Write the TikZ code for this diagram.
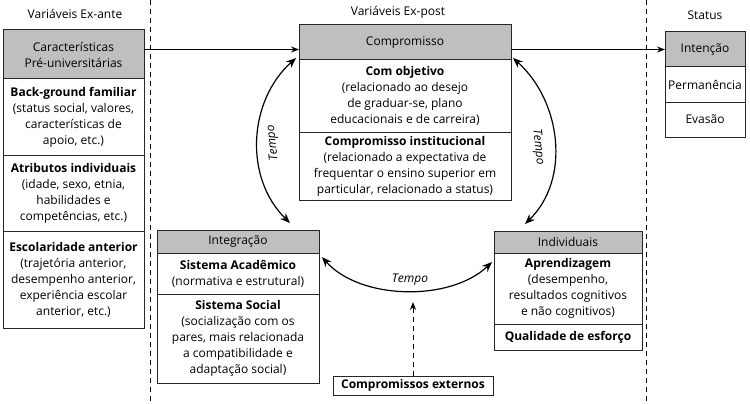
\documentclass[tikz,border=0pt]{standalone}
\usepackage{fontspec}
\setmainfont{Open Sans}
\usetikzlibrary{arrows.meta,positioning,calc}

\tikzset{
  hdr/.style={draw=black!85, line width=1pt, fill=gray!50, align=center, inner sep=0pt, outer sep=0pt},
  sec/.style={draw=black!85, line width=1pt, fill=white, align=center, inner sep=0pt, outer sep=0pt},
  tempo/.style={{Stealth[length=10pt,width=8pt]}-{Stealth[length=10pt,width=8pt]}, line width=1.2pt},
  flow/.style={-{Stealth[length=8pt,width=6pt]}, line width=0.8pt},
  sep/.style={dash pattern=on 5pt off 4pt, line width=0.8pt},
  lbl/.style={font=\fontsize{12}{16}\selectfont\itshape},
}

\begin{document}
\begin{tikzpicture}[x=1pt, y=-1pt, font=\fontsize{12}{16}\selectfont]
 \useasboundingbox (0,0) rectangle (750,404);

    % Separators and titles
 \draw[sep] (150,0) -- (150,404);
 \draw[sep] (646,0) -- (646,404);
 \node (t-ante) at (75,14) {Variáveis Ex-ante};
 \node (t-post) at (398,12) {Variáveis Ex-post};
 \node (t-sta) at (705,15) {Status};

    % Ex-ante column
 \node[hdr, minimum width=141pt, minimum height=49pt, anchor=north west] (pre) at (3,30)
    {Características\\Pré-universitárias};
 \node[sec, minimum width=141pt, minimum height=76pt, below=0pt of pre] (fam)
    {\textbf{Back-ground familiar}\\(status social, valores,\\características de\\apoio, etc.)};
 \node[sec, minimum width=141pt, minimum height=76pt, below=0pt of fam] (atr)
    {\textbf{Atributos individuais}\\(idade, sexo, etnia,\\habilidades e\\competências, etc.)};
 \node[sec, minimum width=141pt, minimum height=97pt, below=0pt of atr] (esc)
    {\textbf{Escolaridade anterior}\\(trajetória anterior,\\desempenho anterior,\\experiência escolar\\anterior, etc.)};

    % Compromisso
 \node[hdr, minimum width=212pt, minimum height=35pt, anchor=north west] (com) at (299,25)
    {Compromisso};
 \node[sec, minimum width=212pt, minimum height=72pt, below=0pt of com] (obj)
    {\textbf{Com objetivo}\\(relacionado ao desejo\\de graduar-se, plano\\educacionais e de carreira)};
 \node[sec, minimum width=212pt, minimum height=68pt, below=0pt of obj] (ins)
    {\textbf{Compromisso institucional}\\(relacionado a expectativa de\\frequentar o ensino superior em\\particular, relacionado a status)};

    % Status
 \node[hdr, minimum width=80pt, minimum height=35pt, anchor=north west] (sta) at (665,32)
    {Intenção};
 \node[sec, minimum width=80pt, minimum height=35pt, below=0pt of sta] (per) {Permanência};
 \node[sec, minimum width=80pt, minimum height=35pt, below=0pt of per] (eva) {Evasão};

    % Integracao
 \node[hdr, minimum width=162pt, minimum height=23pt, anchor=north west] (int) at (157,230)
    {Integração};
 \node[sec, minimum width=162pt, minimum height=41pt, below=0pt of int] (aca)
    {\textbf{Sistema Acadêmico}\\(normativa e estrutural)};
 \node[sec, minimum width=162pt, minimum height=89pt, below=0pt of aca] (soc)
    {\textbf{Sistema Social}\\(socialização com os\\pares, mais relacionada\\a compatibilidade e\\adaptação social)};

    % Individuais
 \node[hdr, minimum width=148pt, minimum height=22pt, anchor=north west] (ind) at (494,231)
    {Individuais};
 \node[sec, minimum width=148pt, minimum height=71pt, below=0pt of ind] (apr)
    {\textbf{Aprendizagem}\\(desempenho,\\resultados cognitivos\\e não cognitivos)};
 \node[sec, minimum width=148pt, minimum height=26pt, below=0pt of apr] (esf)
    {\textbf{Qualidade de esforço}};

    % Externos
 \node[sec, minimum width=160pt, minimum height=19pt, anchor=north west] (ext) at (333,376)
    {\textbf{Compromissos externos}};

    % Flow arrows
 \draw[flow] (pre.east |- sta.west) -- (com.west |- sta.west);
 \draw[flow] (com.east |- sta.west) -- (sta.west);

    % Tempo arcs
 \coordinate (l-a) at ($(com.south west)+(-3,-2)$);
 \coordinate (l-b) at ($(int.north east)+(-29,-7)$);
 \coordinate (r-a) at ($(com.south east)+(2,-2)$);
 \coordinate (r-b) at ($(ind.north west)+(31,-7)$);
 \coordinate (b-a) at ($(aca.north east)+(3,4)$);
 \coordinate (b-b) at ($(apr.north west)+(-2,9)$);
 \draw[tempo] (l-a) .. controls +(-48,43) and +(-46,-45) .. (l-b);
 \draw[tempo] (r-a) .. controls +(48,43) and +(46,-45) .. (r-b);
 \draw[tempo] (b-a) .. controls +(38,43) and +(-42,40) .. (b-b);
 \node[lbl, rotate=96] (tp-l) at (273,143) {Tempo};
 \node[lbl, rotate=-84] (tp-r) at (538,147) {Tempo};
 \node[lbl] (tp-b) at (410,280) {Tempo};

    % External commitments
 \coordinate (ext-tip) at ($(ext.north)+(0,-74)$);
 \draw[flow, dash pattern=on 5pt off 4pt, line width=1pt] (ext.north) -- (ext-tip);
\end{tikzpicture}
\end{document}
